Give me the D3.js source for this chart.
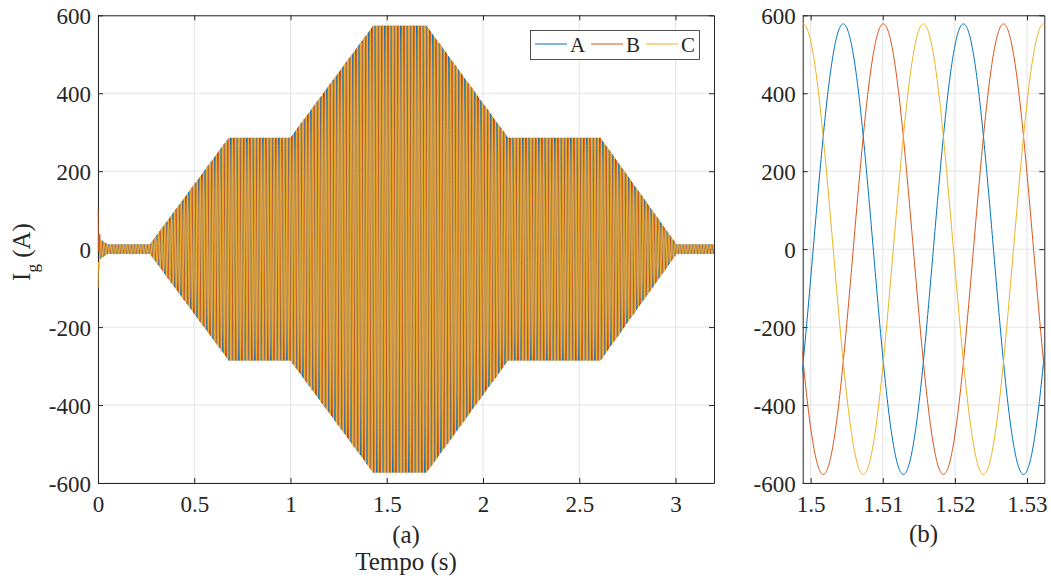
<!DOCTYPE html>
<html><head><meta charset="utf-8">
<script src="https://cdn.jsdelivr.net/npm/d3@7"></script>
<style>
body{margin:0;background:#fff;}
svg text{font-family:"Liberation Serif","Times New Roman",serif !important;fill:#262626;}
</style></head>
<body><svg id="c" width="1051" height="580"></svg>
<script>
// ---- data ----
const seriesNames = ["A", "B", "C"];
const seriesColors = ["#0072BD", "#D95319", "#EDB120"];
const gridFreqHz = 60;
const phaseRefTime = 1.50452;          // time of a phase-A peak (s)
const phaseShiftDeg = [0, -120, -240]; // A, B, C
const envTime = [0, 0.004, 0.012, 0.05, 0.27, 0.68, 1.0, 1.43, 1.706, 2.13, 2.61, 3.005, 3.2];
const envAmp  = [60, 40, 25, 12, 12, 288, 288, 578, 578, 288, 288, 12, 12];
// start-up DC offset of each phase
const dcTime = [0, 0.003, 0.012];
const dcOffsetA = [0, 0, 0];
const dcOffsetB = [150, 30, 0];
const dcOffsetC = [-155, -30, 0];
const xTicksA = [0, 0.5, 1, 1.5, 2, 2.5, 3];
const xTicksB = [1.5, 1.51, 1.52, 1.53];
const yTicks = [-600, -400, -200, 0, 200, 400, 600];
const xDomainA = [0, 3.2];
const xDomainB = [1.4989, 1.5324];
const yDomain = [-600, 600];

// ---- helpers ----
const FONT = "'Liberation Serif', 'Times New Roman', serif";
const svg = d3.select("#c");
const env = d3.scaleLinear().domain(envTime).range(envAmp).clamp(true);
const dcs = [dcOffsetA, dcOffsetB, dcOffsetC].map(a => d3.scaleLinear().domain(dcTime).range(a).clamp(true));
function sample(t0, t1, n) {
  return seriesNames.map((nm, k) => {
    const pts = [];
    for (let i = 0; i <= n; i++) {
      const t = t0 + (t1 - t0) * i / n;
      const th = 2 * Math.PI * gridFreqHz * (t - phaseRefTime) + phaseShiftDeg[k] * Math.PI / 180;
      pts.push([t, env(t) * Math.cos(th) + dcs[k](t)]);
    }
    return pts;
  });
}

function panel(id, xDomain, xRange, xTicks, fmt, data, lw) {
  const x = d3.scaleLinear().domain(xDomain).range(xRange);
  const y = d3.scaleLinear().domain(yDomain).range([483, 15.3]);
  const g = svg.append("g");
  const [L, R] = xRange, T = 15.3, B = 483;
  // grid
  g.append("g").selectAll("line").data(xTicks).join("line")
    .attr("x1", d => x(d)).attr("x2", d => x(d)).attr("y1", T).attr("y2", B)
    .attr("stroke", "#e3e3e3").attr("stroke-width", 1);
  g.append("g").selectAll("line").data(yTicks).join("line")
    .attr("y1", d => y(d)).attr("y2", d => y(d)).attr("x1", L).attr("x2", R)
    .attr("stroke", "#e3e3e3").attr("stroke-width", 1);
  // axes
  const ax = [
    d3.axisBottom(x).tickValues(xTicks).tickFormat(fmt).tickSizeInner(-5).tickSizeOuter(0).tickPadding(13),
    d3.axisTop(x).tickValues(xTicks).tickFormat("").tickSizeInner(-5).tickSizeOuter(0),
    d3.axisLeft(y).tickValues(yTicks).tickFormat(d => String(d)).tickSizeInner(-5).tickSizeOuter(0).tickPadding(7),
    d3.axisRight(y).tickValues(yTicks).tickFormat("").tickSizeInner(-5).tickSizeOuter(0)
  ];
  const pos = [`translate(0,${B})`, `translate(0,${T})`, `translate(${L},0)`, `translate(${R},0)`];
  ax.forEach((a, i) => {
    const ag = g.append("g").attr("transform", pos[i]).call(a)
      .attr("font-family", FONT).attr("font-size", 23);
    ag.select(".domain").attr("stroke", "#262626").attr("stroke-width", 1);
    ag.selectAll(".tick line").attr("stroke", "#262626");
    ag.selectAll(".tick text").attr("fill", "#262626").style("font-family", FONT).style("font-size", "23px");
    if (i === 0) ag.selectAll(".tick text").attr("dy", "0.7em");
    if (i === 2) ag.selectAll(".tick text").attr("dy", "0.36em");
  });
  // lines (drawn over the axes, as in the reference)
  g.append("clipPath").attr("id", "clip" + id).append("rect")
    .attr("x", L - 0.5).attr("y", T).attr("width", R - L + 0.5).attr("height", B - T);
  const line = d3.line().x(d => x(d[0])).y(d => y(d[1]));
  g.append("g").attr("clip-path", `url(#clip${id})`).selectAll("path").data(data).join("path")
    .attr("d", line).attr("fill", "none")
    .attr("stroke", (d, i) => seriesColors[i]).attr("stroke-width", lw);
  return { x, y };
}

const dataA = sample(0, 3.2, 192 * 24);
const dataB = sample(1.497, 1.534, 600);
panel("a", xDomainA, [98, 714], xTicksA, d3.format(""), dataA, 0.9);
panel("b", xDomainB, [802.7, 1044.3], xTicksB, d3.format(".2~f"), dataB, 1);

function label(txt, cx, by, size) {
  svg.append("text").attr("x", cx).attr("y", by)
    .attr("text-anchor", "middle").attr("font-size", size).text(txt);
}
label("(a)", 406, 543, 25);
label("Tempo (s)", 406, 570, 25);
label("(b)", 923.5, 542, 25);

// y label
const yl = svg.append("text").attr("transform", "translate(29.5,252) rotate(-90)")
  .attr("text-anchor", "middle").attr("font-size", 25);
yl.append("tspan").text("I");
yl.append("tspan").attr("font-size", 17).attr("dy", 8).text("g");
yl.append("tspan").attr("dy", -8).text(" (A)");

// legend
const lg = svg.append("g");
lg.append("rect").attr("x", 530.5).attr("y", 30.5).attr("width", 169).attr("height", 29)
  .attr("fill", "#fff").attr("stroke", "#262626").attr("stroke-width", 0.8);
const legX = [535, 591, 646];
seriesNames.forEach((nm, i) => {
  lg.append("line").attr("x1", legX[i]).attr("x2", legX[i] + 32).attr("y1", 44).attr("y2", 44)
    .attr("stroke", seriesColors[i]).attr("stroke-width", 1);
  lg.append("text").attr("x", legX[i] + 35).attr("y", 52)
    .attr("font-size", 21).text(nm);
});
</script></body></html>
